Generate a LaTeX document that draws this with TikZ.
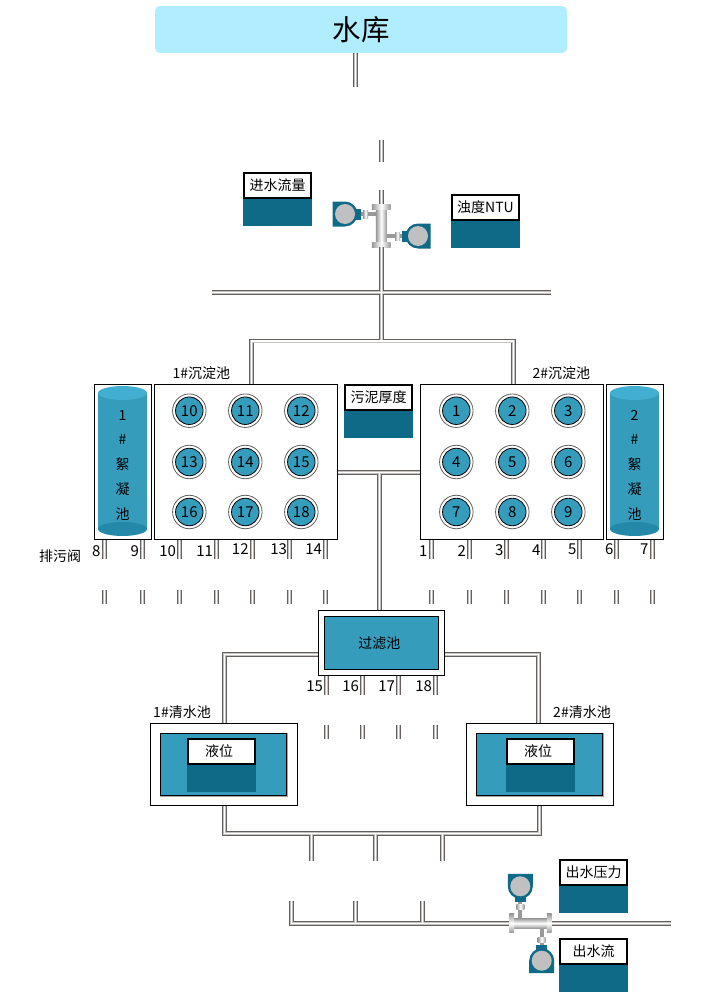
\documentclass[tikz,border=0pt]{standalone}
\usepackage{xcolor}
\usepackage{fontspec}
\setmainfont{Noto Sans CJK SC}
\usetikzlibrary{positioning,calc}
\definecolor{bannerblue}{HTML}{B0EEFF}
\definecolor{tankblue}{HTML}{359CBC}
\definecolor{tanktop}{HTML}{42AFD2}
\definecolor{tankbottom}{HTML}{2488A8}
\definecolor{gaugeteal}{HTML}{0F6A87}
\definecolor{gaugegray}{HTML}{C0C0C0}
\definecolor{pipeedge}{HTML}{645F5C}
\definecolor{pipemid}{HTML}{C4C2C0}
\definecolor{stemgray}{HTML}{999999}
\tikzset{
  every node/.style={font=\fontsize{14}{16}\selectfont, inner sep=0pt},
  digits/.style={font=\fontsize{15}{16}\selectfont},
  pipe/.style={draw=pipeedge, line width=4.8pt,
    postaction={draw=pipemid, line width=3pt},
    postaction={draw=white, line width=1.4pt}},
  pool/.style={draw, fill=white, line width=1pt},
  innerpool/.style={draw, fill=tankblue, line width=1pt},
  meterbox/.style={draw, fill=white, line width=2pt, minimum width=67, minimum height=25},
  meterval/.style={fill=gaugeteal, outer sep=0pt, minimum width=69, minimum height=27},
  ring/.style={circle, draw=pipeedge, fill=white, line width=.8pt, minimum size=33.5},
  basin/.style={circle, draw, fill=tankblue, line width=.8pt, minimum size=27.5, digits},
  bodyv/.style={left color=stemgray, right color=stemgray, middle color=white},
  bodyh/.style={top color=stemgray, bottom color=stemgray, middle color=white},
  shadowline/.style={gray!70, line width=1pt},
  transmitter/.pic={
    \fill[stemgray] (-2,16) rectangle (2,32);
    \shade[left color=stemgray, right color=stemgray, middle color=white] (-4,18) rectangle (4,23);
    \fill[gaugeteal] (-5.5,10) rectangle (5.5,16);
    \fill[gaugeteal] (-12.5,-12.5) -- (12.5,-12.5) -- (12.5,0)
      arc[start angle=0, end angle=-180, radius=12.5pt] -- cycle;
    \fill[gaugegray] (0,0) circle[radius=10pt];
  }
}
\begin{document}
\begin{tikzpicture}[x=1pt, y=-1pt]
    \path[use as bounding box, fill=white] (0,0) rectangle (721,1001);

    % Reservoir
    \node[fill=bannerblue, rounded corners=5pt, minimum width=412, minimum height=47,
      font=\fontsize{28.5}{32}\selectfont] (reservoir) at (361,29.5) {水库};

    % Pools
    \node[pool, minimum width=183, minimum height=155.5] (settle1) at (246,461.75) {};
    \node[pool, minimum width=183, minimum height=155.5] (settle2) at (512.1,461.75) {};
    \node[pool, minimum width=57.2, minimum height=155.5] (floc1) at (123.1,461.75) {};
    \node[pool, minimum width=57.4, minimum height=155.5] (floc2) at (635,461.75) {};
    \node[pool, minimum width=126.4, minimum height=65.7] (filter) at (381.5,642.85) {};
    \node[innerpool, minimum width=114.4, minimum height=53.7] (filterin) at (381.5,642.85) {};
    \node at (379.3,643.3) (filtertext) {过滤池};
    \node[pool, minimum width=147, minimum height=82] (clean1) at (223.8,764.3) {};
    \node[pool, minimum width=147.4, minimum height=82] (clean2) at (540,764.3) {};
    \node[innerpool, minimum width=126, minimum height=62] (clean1in) at (223,764.3) {};
    \node[innerpool, minimum width=126, minimum height=62] (clean2in) at (539,764.3) {};
    \foreach \p in {clean1in, clean2in}
      \draw[shadowline] ([shift={(1pt,0pt)}]\p.north east) -- ([shift={(1pt,-1pt)}]\p.south east) -- ([shift={(0pt,-1pt)}]\p.south west);

    % Flocculation cylinders
    \foreach \name/\x/\n in {cyl1/122.5/1, cyl2/634.5/2} {
      \fill[tankblue] (\x-24.5,393) rectangle (\x+24.5,529);
      \fill[tankbottom] (\x,529) ellipse[x radius=24.5pt, y radius=7pt];
      \fill[tanktop] (\x,393) ellipse[x radius=24.5pt, y radius=7pt];
      \node[align=center, font=\fontsize{14}{24.75}\selectfont] (\name) at (\x,465) {\n\\\#\\絮\\凝\\池};
    }

    % Basins 1 to 9 and 10 to 18
    \foreach \first/\xa in {1/456.3, 10/189.3}
      \foreach \y [count=\r from 0] in {410.7,462,512}
        \foreach \k in {0,1,2} {
          \pgfmathtruncatemacro\n{\first+3*\r+\k}
          \node[ring] (r\n) at (\xa+56*\k,\y) {};
          \node[basin] (b\n) at (\xa+56*\k,\y) {\n};
        }

    % Meters
    \foreach \name/\x/\y/\txt in {inflow/277.5/185.5/进水流量, turbid/485.5/207.5/浊度NTU,
        sludge/378.5/397.5/污泥厚度, level1/221.5/751.5/液位\kern5pt, level2/540.5/751.5/液位\kern5pt,
        pressure/593.5/872.5/出水压力, outflow/593.5/951.3/出水流} {
      \node[meterbox] (\name) at (\x,\y) {\txt};
      \node[meterval, below=0pt of \name] (\name val) {};
    }

    % Transmitters and pipe bodies
    \pic[rotate=90] (ft1) at (345,214) {transmitter};
    \pic[rotate=-90] (ft2) at (418,236) {transmitter};
    \pic (ft3) at (520.3,886.3) {transmitter};
    \pic[rotate=180] (ft4) at (541.7,960.7) {transmitter};
    \node[bodyv, minimum width=10.7, minimum height=40] (inbody) at (381.3,225.5) {};
    \node[bodyv, minimum width=18.7, minimum height=5] (inflange1) at (381.3,206.5) {};
    \node[bodyv, minimum width=18.7, minimum height=5] (inflange2) at (381.3,244.7) {};
    \node[bodyh, minimum width=40, minimum height=10] (outbody) at (530.5,923.3) {};
    \node[bodyh, minimum width=4.7, minimum height=18.7] (outflange1) at (511.7,923.3) {};
    \node[bodyh, minimum width=4.7, minimum height=18.7] (outflange2) at (549.3,923.3) {};

    % Inlet pipes
    \coordinate (top1) at (355.5,87);
    \coordinate (top2) at (381.5,140);
    \coordinate (top3) at (381.5,162);
    \coordinate (top4) at (381.5,190);
    \coordinate (bar1) at (212,292.5);
    \coordinate (bar2) at (551,292.5);
    \coordinate (split) at (381.5,341);
    \coordinate (splitl) at (251.3,341);
    \coordinate (splitr) at (513.7,341);
    \draw[pipe] (reservoir.south -| top1) -- (top1);
    \draw[pipe] (top2) -- (top3);
    \draw[pipe] (top4) -- (inflange1.north -| top4);
    \draw[pipe] (inflange2.south -| split) -- (split) (bar1) -- (bar2)
      (settle1.north -| splitl) -- (splitl) -- (splitr) -- (settle2.north -| splitr);

    % Pool to filter
    \coordinate (mid) at (379.5,472.5);
    \draw[pipe] (settle1.east |- mid) -- (settle2.west |- mid) (mid) -- (filter.north -| mid);

    % Filter to clean water
    \coordinate (cl) at (224.5,654.5);
    \coordinate (cr) at (538.7,654.5);
    \draw[pipe] (filter.west |- cl) -- (cl) -- (clean1.north -| cl);
    \draw[pipe] (filter.east |- cr) -- (cr) -- (clean2.north -| cr);

    % Clean water collector
    \coordinate (ml) at (224.5,833.5);
    \coordinate (mr) at (539.5,833.5);
    \coordinate (j1) at (311.3,860.7);
    \coordinate (j2) at (375.5,860.7);
    \coordinate (j3) at (442.3,860.7);
    \draw[pipe] (clean1.south -| ml) -- (ml) -- (mr) -- (clean2.south -| mr)
      (j1) -- (j1 |- ml) (j2) -- (j2 |- ml) (j3) -- (j3 |- ml);

    % Outlet header
    \coordinate (k1) at (291.3,901);
    \coordinate (k2) at (355.3,901);
    \coordinate (k3) at (422.7,901);
    \coordinate (hl) at (291.3,923.5);
    \coordinate (he) at (670.7,923.5);
    \draw[pipe] (k1) -- (hl) -- (outflange1.west |- hl) (k2) -- (k2 |- hl) (k3) -- (k3 |- hl);
    \draw[pipe] (outflange2.east |- he) -- (he);

    % Drain stubs under the pools
    \foreach \i/\x/\p in {1/104.3/floc1, 2/142.7/floc1, 3/179.3/settle1, 4/216.3/settle1, 5/252.3/settle1,
        6/289.3/settle1, 7/325.3/settle1, 8/431.3/settle2, 9/469.3/settle2, 10/506.3/settle2,
        11/543.3/settle2, 12/579.3/settle2, 13/616.3/floc2, 14/652.3/floc2} {
      \coordinate (sa\i) at (\x,559.3);
      \coordinate (sb\i) at (\x,590);
      \coordinate (sc\i) at (\x,603.7);
      \draw[pipe] (\p.south -| sa\i) -- (sa\i);
      \draw[pipe] (sb\i) -- (sc\i);
    }
    \foreach \i/\x in {15/326.3, 16/362.3, 17/398.3, 18/435.3} {
      \coordinate (sa\i) at (\x,695);
      \coordinate (sb\i) at (\x,725);
      \coordinate (sc\i) at (\x,738.7);
      \draw[pipe] (filter.south -| sa\i) -- (sa\i);
      \draw[pipe] (sb\i) -- (sc\i);
    }

    % Labels
    \foreach \t/\x/\y [count=\i] in {8/96.3/550.7, 9/134.7/550.7, 10/167.7/551, 11/204.7/551, 12/240.3/549.5,
        13/278.7/549.5, 14/313.7/549.5, 1/423.3/551, 2/461.7/551, 3/499.3/550.5, 4/536.3/550.5,
        5/572.3/549.5, 6/609.3/549.5, 7/644.3/549.5, 15/314.7/686, 16/350.7/686, 17/386.7/686, 18/423.7/686}
      \node[digits] (valve\i) at (\x,\y) {\t};
    \node (drain) at (60,556) {排污阀};
    \node (settle1name) at (201.3,372.7) {1\#沉淀池};
    \node (settle2name) at (561.3,372.7) {2\#沉淀池};
    \node (clean1name) at (182,711.7) {1\#清水池};
    \node (clean2name) at (582,711.7) {2\#清水池};
\end{tikzpicture}
\end{document}
